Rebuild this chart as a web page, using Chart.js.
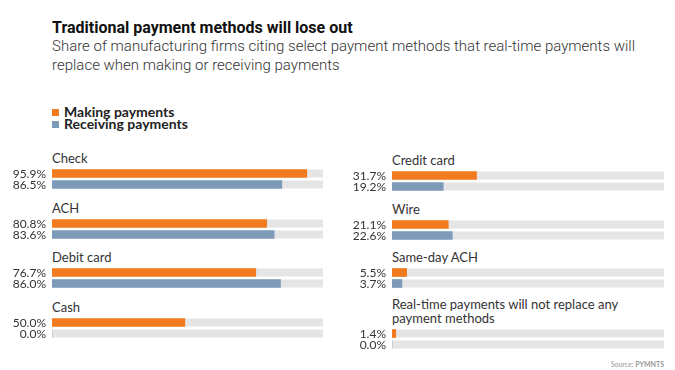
<!DOCTYPE html>
<html>
<head>
<meta charset="utf-8">
<script src="https://cdn.jsdelivr.net/npm/chart.js@4.4.1/dist/chart.umd.min.js"></script>
<style>
  body { margin: 0; width: 675px; height: 370px; background: #fff; position: relative; overflow: hidden; font-family: Lato, sans-serif; color: #333; }
  #title { position: absolute; left: 52px; top: 19px; font: 700 16px/18px Roboto, sans-serif; color: #111; }
  #subtitle { position: absolute; left: 52px; top: 37px; font: 300 15px/19px Roboto, sans-serif; color: #333; }
  #legend { position: absolute; left: 52px; top: 106px; font: 700 14px/12px Lato, sans-serif; color: #222; }
  #legend div { display: flex; align-items: center; height: 12px; }
  #legend span.sw { width: 7px; height: 7px; margin-right: 5px; display: inline-block; }
  .panel { position: absolute; }
  #left { left: 0; top: 151px; }
  #right { left: 340px; top: 153px; }
  .group { margin-bottom: 10.5px; }
  #right .group { margin-bottom: 9.5px; }
  #right .group:nth-child(3) { margin-bottom: 8px; }
  .group .lbl { padding-left: 52px; font: 400 13px/14px Lato, sans-serif; color: #333; max-width: 250px; }
  .group canvas { display: block; margin-top: 3px; }
  #source { position: absolute; right: 11px; top: 360px; font: 400 7px/8px Lato, sans-serif; color: #999; }
</style>
</head>
<body>
<div id="title">Traditional payment methods will lose out</div>
<div id="subtitle">Share of manufacturing firms citing select payment methods that real-time payments will<br>replace when making or receiving payments</div>
<div id="legend"></div>
<div class="panel" id="left"></div>
<div class="panel" id="right"></div>
<div id="source">Source: <b>PYMNTS</b></div>
<script>
// --- data ---
const seriesNames = ['Making payments', 'Receiving payments'];
const leftCategories = ['Check', 'ACH', 'Debit card', 'Cash'];
const leftMaking = [95.9, 80.8, 76.7, 50.0];
const leftReceiving = [86.5, 83.6, 86.0, 0.0];
const rightCategories = ['Credit card', 'Wire', 'Same-day ACH', 'Real-time payments will not replace any payment methods'];
const rightMaking = [31.7, 21.1, 5.5, 1.4];
const rightReceiving = [19.2, 22.6, 3.7, 0.0];

const ORANGE = '#f37b1f';
const BLUE = '#7d9bb8';
const TRACK = '#e5e5e5';
const colors = [ORANGE, BLUE];

// legend
const legend = document.getElementById('legend');
seriesNames.forEach((name, i) => {
    const row = document.createElement('div');
    row.innerHTML = `<span class="sw" style="background:${colors[i]}"></span>${name}`;
    legend.appendChild(row);
});

// grey track behind each bar, full length of the x scale
const trackPlugin = {
    id: 'track',
    beforeDatasetsDraw(chart) {
        const { ctx, scales: { x } } = chart;
        const x0 = x.getPixelForValue(x.min);
        const x1 = x.getPixelForValue(x.max);
        ctx.save();
        ctx.fillStyle = TRACK;
        chart.getDatasetMeta(0).data.forEach(bar => {
            const { y, height } = bar.getProps(['y', 'height'], true);
            ctx.fillRect(x0, y - height / 2, x1 - x0, height);
        });
        ctx.restore();
    }
};

// percentage text left of each bar
const valuePlugin = {
    id: 'values',
    afterDatasetsDraw(chart) {
        const { ctx, chartArea, scales: { y } } = chart;
        const data = chart.data.datasets[0].data;
        ctx.save();
        ctx.fillStyle = '#333';
        ctx.font = '12px Lato';
        ctx.textAlign = 'right';
        ctx.textBaseline = 'middle';
        data.forEach((v, i) => {
            ctx.fillText(v.toFixed(1) + '%', chartArea.left - 6, y.getPixelForValue(i) + 0.5);
        });
        ctx.restore();
    }
};

function buildPanel(id, categories, making, receiving, width) {
    const panel = document.getElementById(id);
    categories.forEach((cat, i) => {
        const group = document.createElement('div');
        group.className = 'group';
        const lbl = document.createElement('div');
        lbl.className = 'lbl';
        lbl.textContent = cat;
        const canvas = document.createElement('canvas');
        canvas.width = width;
        canvas.height = 22;
        group.appendChild(lbl);
        group.appendChild(canvas);
        panel.appendChild(group);

        new Chart(canvas, {
            type: 'bar',
            data: {
                labels: seriesNames,
                datasets: [{
                    data: [making[i], receiving[i]],
                    backgroundColor: colors,
                    borderWidth: 0,
                    barThickness: 8
                }]
            },
            options: {
                indexAxis: 'y',
                responsive: false,
                animation: false,
                layout: { padding: 0 },
                plugins: { legend: { display: false }, tooltip: { enabled: false } },
                scales: {
                    x: { display: false, min: 0, max: 102 },
                    y: {
                        grid: { display: false, drawTicks: false },
                        border: { display: false },
                        ticks: { display: false },
                        afterFit: (axis) => { axis.width = 52; }
                    }
                }
            },
            plugins: [trackPlugin, valuePlugin]
        });
    });
}

buildPanel('left', leftCategories, leftMaking, leftReceiving, 323);
buildPanel('right', rightCategories, rightMaking, rightReceiving, 324);
</script>
</body>
</html>
